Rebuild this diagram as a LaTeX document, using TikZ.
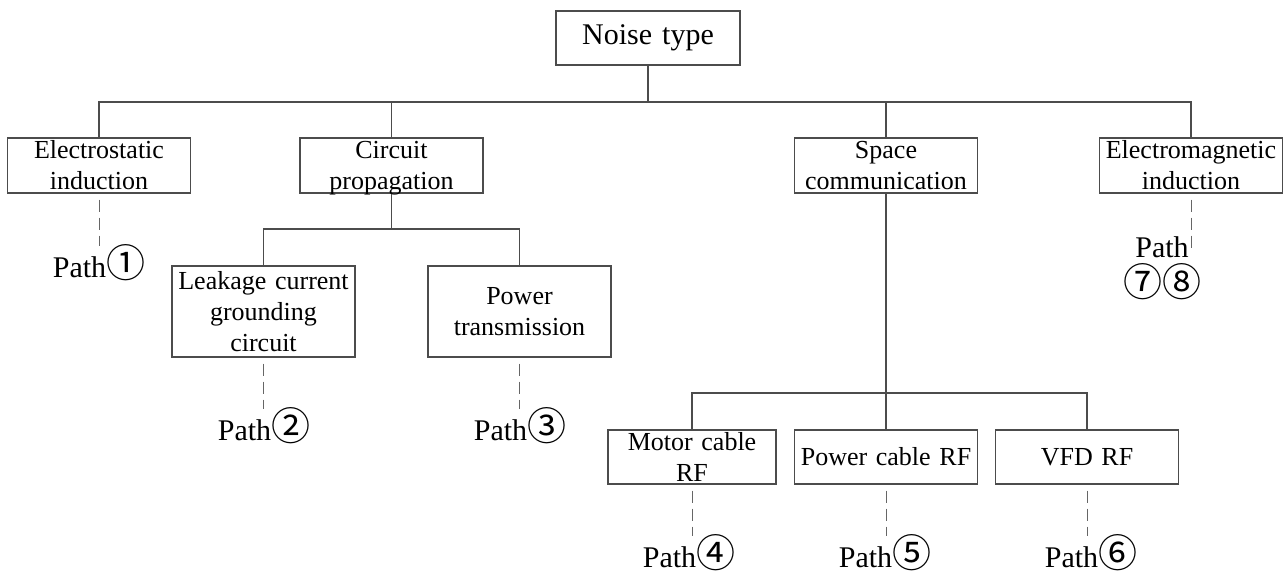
\documentclass[tikz,border=0pt]{standalone}
\usepackage{fontspec}
\setmainfont{Liberation Serif}
\newfontfamily\circf{Noto Sans CJK SC}
\newcommand\cnum[1]{{\circf\fontsize{39}{39}\selectfont #1}}
\begin{document}
\begin{tikzpicture}[x=1pt,y=-1pt,
  box/.style={draw=black!70, line width=1.1pt, inner xsep=1pt, inner ysep=0pt,
    text width=#1, minimum height=55pt, align=center,
    font=\fontsize{26}{31}\selectfont},
  box/.default=181pt,
  conn/.style={draw=black!70, line width=1.1pt},
  dashln/.style={draw=black!60, line width=1pt, dash pattern=on 12pt off 6pt},
  pathlbl/.style={inner sep=0pt, anchor=base, align=center, font=\fontsize{30}{39}\selectfont}]
\useasboundingbox (0,0) rectangle (1287,573);
% nodes
\node[box=182pt, minimum height=54pt, font=\fontsize{30}{36}\selectfont] (noise) at (648,38) {Noise type};
\node[box] (esi) at (99,165.5) {Electrostatic\\induction};
\node[box] (cp) at (391.5,165.5) {Circuit\\\smash{propagation}};
\node[box] (sc) at (886,165.5) {Space\\communication};
\node[box] (emi) at (1191,165.5) {Electromagnetic\\induction};
\node[box, minimum height=91pt] (leak) at (263.5,311.5) {Leakage current\\grounding\\circuit};
\node[box, minimum height=91pt] (ptr) at (519.5,311.5) {Power\\transmission};
\node[box=166pt, minimum height=54pt] (mc) at (692,457) {Motor cable\\RF};
\node[box, minimum height=54pt] (pc) at (886,457) {Power cable RF};
\node[box, minimum height=54pt] (vfd) at (1087,457) {VFD RF};
% path labels
\node[pathlbl] (p1) at (99,277) {Path\cnum{①}};
\node[pathlbl] (p2) at (264,440) {Path\cnum{②}};
\node[pathlbl] (p3) at (520,440) {Path\cnum{③}};
\node[pathlbl] (p4) at (689,567) {Path\cnum{④}};
\node[pathlbl] (p5) at (885,567) {Path\cnum{⑤}};
\node[pathlbl] (p6) at (1091,567) {Path\cnum{⑥}};
\node[pathlbl, anchor=north] (p78) at (1162,236) {Path\\\cnum{⑦⑧}};
\coordinate (e78) at (1191,253);
% bus coordinates
\coordinate (b1) at (648,102);
\coordinate (b2) at (391.5,229);
\coordinate (b3) at (886,393);
% tree connectors
\draw[conn] (noise.south) -- (b1);
\draw[conn] (esi.north) -- (esi.north |- b1) -- (emi.north |- b1) -- (emi.north);
\draw[conn] (cp.north) -- (cp.north |- b1);
\draw[conn] (sc.north) -- (sc.north |- b1);
\draw[conn] (cp.south) -- (b2);
\draw[conn] (leak.north) -- (leak.north |- b2) -- (ptr.north |- b2) -- (ptr.north);
\draw[conn] (sc.south) -- (b3);
\draw[conn] (mc.north) -- (mc.north |- b3) -- (vfd.north |- b3) -- (vfd.north);
\draw[conn] (pc.north) -- (pc.north |- b3);
% dashed connectors
\draw[dashln] ([yshift=-6pt]esi.south) -- ([yshift=-2pt]esi.south |- p1.north);
\draw[dashln] ([yshift=-6pt]leak.south) -- ([yshift=-2pt]leak.south |- p2.north);
\draw[dashln] ([yshift=-6pt]ptr.south) -- ([yshift=-2pt]ptr.south |- p3.north);
\draw[dashln] ([yshift=-6pt]mc.south) -- ([yshift=-2pt]mc.south |- p4.north);
\draw[dashln] ([yshift=-6pt]pc.south) -- ([yshift=-2pt]pc.south |- p5.north);
\draw[dashln] ([yshift=-6pt]vfd.south) -- ([yshift=-2pt]vfd.south |- p6.north);
\draw[dashln] ([yshift=-6pt]emi.south) -- (e78);
\end{tikzpicture}
\end{document}
